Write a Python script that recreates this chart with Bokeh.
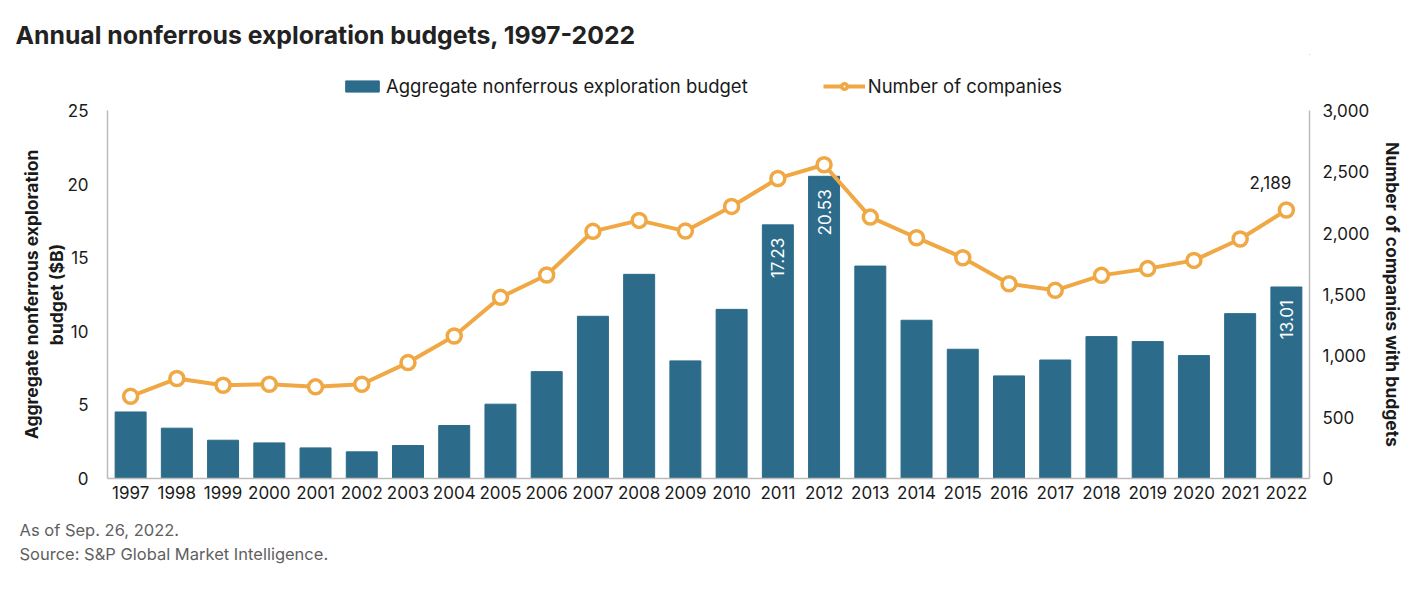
import math
from bokeh.plotting import figure
from bokeh.layouts import column
from bokeh.models import (ColumnDataSource, LinearAxis, Range1d, Legend, Title,
                          LegendItem, NumeralTickFormatter, FactorRange)
from bokeh.core.properties import value
from bokeh.embed import file_html
from bokeh.resources import INLINE

title_text = "Annual nonferrous exploration budgets, 1997-2022"
notes = ["As of Sep. 26, 2022.", "Source: S&P Global Market Intelligence."]
years = [str(y) for y in range(1997, 2023)]
budget = [4.52, 3.42, 2.60, 2.42, 2.08, 1.81, 2.24, 3.60, 5.05, 7.26, 11.02, 13.87, 7.99,
          11.49, 17.23, 20.53, 14.43, 10.75, 8.78, 6.97, 8.05, 9.64, 9.30, 8.35, 11.20, 13.01]
companies = [670, 815, 760, 768, 747, 768, 945, 1162, 1477, 1659, 2015, 2104, 2017,
             2218, 2446, 2558, 2131, 1963, 1800, 1588, 1534, 1656, 1711, 1778, 1952, 2189]
left_ticks = [0, 5, 10, 15, 20, 25]
right_ticks = [0, 500, 1000, 1500, 2000, 2500, 3000]
bar_label_years = ["2011", "2012", "2022"]
bar_label_values = [17.23, 20.53, 13.01]
line_label_years = ["2022"]
line_label_values = [2189]

BAR = "#2C6B8A"
ORANGE = "#F0A844"
FONT = "Inter"
AX = "#BBBBBB"
W = 1405
BL, BR = 107, 93

# ---------- header: title + legend ----------
top = figure(width=W, height=100, x_range=Range1d(0, 1), y_range=Range1d(0, 1),
             output_backend="svg", toolbar_location=None, x_axis_type=None, y_axis_type=None,
             min_border_left=BL, min_border_right=BR, min_border_top=54, min_border_bottom=0)
top.xgrid.visible = False
top.ygrid.visible = False
top.outline_line_color = None
top.title.text = title_text
top.title.text_font = FONT
top.title.text_font_size = "24.8px"
top.title.text_font_style = "bold"
top.title.text_color = "#222222"
top.title.align = "left"
top.title.offset = -92

# legend swatches (their marks sit outside the visible range)
lb = top.vbar(x=[5], top=[6], bottom=[5], width=0.5, color=BAR)
ll_ = top.line(x=[5, 6], y=[5, 5], color=ORANGE, line_width=4)
lp = top.scatter(x=[5], y=[5], size=13, fill_color="white", line_color=ORANGE, line_width=3.5)
legend = Legend(items=[LegendItem(label="Aggregate nonferrous exploration budget", renderers=[lb]),
                       LegendItem(label="Number of companies", renderers=[ll_, lp])],
                orientation="horizontal", location=(341 - BL, 3), spacing=75,
                label_text_font=FONT, label_text_font_size="18.5px", label_text_color="#1A1A1A",
                glyph_width=42, glyph_height=14, label_standoff=3, label_height=20,
                border_line_color=None, background_fill_alpha=0, padding=0, margin=0)
top.add_layout(legend)

# ---------- main chart ----------
src = ColumnDataSource(dict(year=years, budget=budget, companies=companies))

p = figure(width=W, height=499, x_range=FactorRange(factors=years, range_padding=0),
           y_range=Range1d(0, 25), output_backend="svg", toolbar_location=None,
           min_border_left=BL, min_border_right=BR, min_border_top=10,
           min_border_bottom=121)
p.extra_y_ranges = {"comp": Range1d(0, 3000)}

p.vbar(x="year", top="budget", width=0.67, source=src, color=BAR)
p.line(x="year", y="companies", source=src, y_range_name="comp", color=ORANGE, line_width=4)
p.scatter(x="year", y="companies", source=src, y_range_name="comp", size=14,
          fill_color="white", line_color=ORANGE, line_width=3.5)

bl = ColumnDataSource(dict(x=bar_label_years, y=bar_label_values,
                           t=[f"{v:.2f}" for v in bar_label_values]))
p.text(x="x", y="y", text="t", source=bl, angle=math.pi / 2, text_align="right",
       text_baseline="middle", y_offset=13, text_color="white", text_font=value(FONT),
       text_font_size="17px")

lls = ColumnDataSource(dict(x=line_label_years, y=line_label_values,
                            t=[f"{v:,}" for v in line_label_values]))
p.text(x="x", y="y", text="t", source=lls, y_range_name="comp", text_align="center",
       text_baseline="middle", x_offset=-16, y_offset=-27, text_color="#1A1A1A",
       text_font=value(FONT), text_font_size="17px")

p.xgrid.visible = False
p.ygrid.visible = False
p.outline_line_color = None


def style_axis(ax):
    ax.axis_line_color = AX
    ax.axis_line_width = 1.5
    ax.major_tick_line_color = None
    ax.minor_tick_line_color = None
    ax.major_tick_out = 0
    ax.major_tick_in = 0
    ax.major_label_text_font = FONT
    ax.major_label_text_font_size = "17px"
    ax.major_label_text_color = "#1A1A1A"
    ax.axis_label_text_font = FONT
    ax.axis_label_text_font_style = "bold"
    ax.axis_label_text_font_size = "17.5px"
    ax.axis_label_text_color = "#1A1A1A"


xa = p.xaxis[0]
style_axis(xa)
xa.major_label_standoff = 7

ya = p.yaxis[0]
style_axis(ya)
ya.ticker = left_ticks
ya.major_label_standoff = 19
ya.axis_label = "Aggregate nonferrous exploration\nbudget ($B)"
ya.axis_label_standoff = -3

ra = LinearAxis(y_range_name="comp")
style_axis(ra)
ra.ticker = right_ticks
ra.formatter = NumeralTickFormatter(format="0,0")
ra.major_label_standoff = 13
ra.axis_label = "Number of companies with budgets"
ra.axis_label_standoff = 9
p.add_layout(ra, "right")

# ---------- footnotes ----------
foot = Title(text="\n".join(notes), align="left", offset=-88, text_font=FONT,
             text_font_size="16.5px", text_font_style="normal", text_color="#5F5F5F")
props = Title.properties()
if "text_line_height" in props:
    foot.text_line_height = 1.2
if "standoff" in props:
    foot.standoff = 33
p.add_layout(foot, "below")

layout = column(top, p, spacing=0)
open("out.html", "w").write(file_html(layout, INLINE))
